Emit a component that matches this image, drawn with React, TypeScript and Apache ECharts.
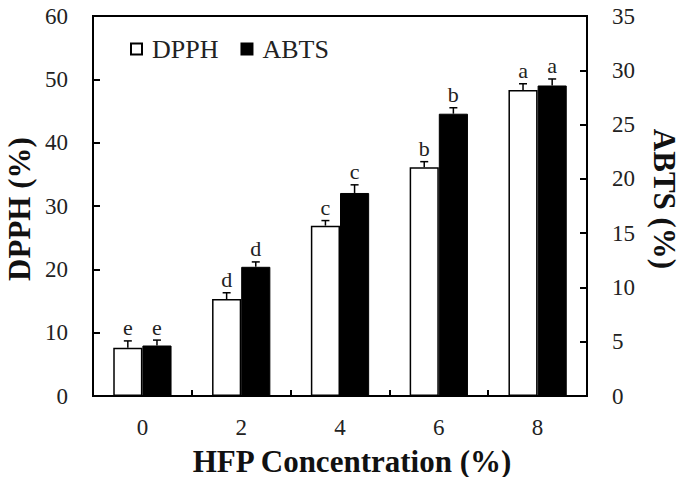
import React, { useEffect, useRef } from "react";
import * as echarts from "echarts";

const categories = ["0", "2", "4", "6", "8"];
const dpphValues = [7.6, 15.3, 26.9, 36.1, 48.3];
const dpphErrors = [1.1, 1.0, 0.8, 0.9, 1.0];
const abtsValues = [4.65, 11.9, 18.7, 26.0, 28.6];
const abtsErrors = [0.5, 0.45, 0.75, 0.55, 0.6];
const dpphLetters = ["e", "d", "c", "b", "a"];
const abtsLetters = ["e", "d", "c", "b", "a"];
const leftTicks = { min: 0, max: 60, interval: 10 };
const rightTicks = { min: 0, max: 35, interval: 5 };

const FONT = "Liberation Serif";
const CAT_GAP = 0.41;

function makeRender(errs: number[], letters: string[], side: number) {
  return (params: any, api: any) => {
    const idx = params.dataIndex;
    const x = api.value(0);
    const v = api.value(1);
    const e = errs[idx];
    const base = api.coord([x, v]);
    const top = api.coord([x, v + e]);
    const cw = api.size([1, 0])[0];
    const bw = (cw * (1 - CAT_GAP)) / 2;
    const cx = base[0] + (side * bw) / 2;
    return {
      type: "group",
      children: [
        {
          type: "line",
          shape: { x1: cx, y1: base[1], x2: cx, y2: top[1] },
          style: { stroke: "#000", lineWidth: 1.5 },
        },
        {
          type: "line",
          shape: { x1: cx - 4, y1: top[1], x2: cx + 4, y2: top[1] },
          style: { stroke: "#000", lineWidth: 1.5 },
        },
        {
          type: "text",
          x: cx,
          y: top[1] - 2,
          style: {
            text: letters[idx],
            align: "center",
            verticalAlign: "bottom",
            fontSize: 22,
            fontFamily: FONT,
            fill: "#222",
          },
        },
      ],
    };
  };
}

export default function App() {
  const ref = useRef<HTMLDivElement>(null);
  useEffect(() => {
    if (!ref.current) return;
    const chart = echarts.init(ref.current, undefined, { renderer: "svg" });
    const axisLine = { show: true, lineStyle: { color: "#000", width: 2 } };
    const labelStyle = { fontSize: 23, fontFamily: FONT, color: "#222" };
    const titleStyle = { fontSize: 31, fontWeight: "bold", fontFamily: FONT, fill: "#111" };
    chart.setOption({
      animation: false,
      backgroundColor: "#fff",
      textStyle: { fontFamily: FONT },
      grid: {
        left: 93,
        right: 99,
        top: 16,
        bottom: 81,
        show: true,
        borderColor: "#000",
        borderWidth: 2,
        backgroundColor: "transparent",
      },
      legend: {
        data: ["DPPH", "ABTS"],
        left: 125,
        top: 31,
        icon: "rect",
        itemWidth: 11,
        itemHeight: 11,
        itemGap: 22,
        textStyle: { fontSize: 26, fontFamily: FONT, color: "#222", padding: [0, 0, 0, 5] },
      },
      xAxis: {
        type: "category",
        data: categories,
        axisLine,
        axisTick: { show: true, inside: true, length: 6, lineStyle: { color: "#000", width: 2 } },
        axisLabel: { ...labelStyle, margin: 20 },
      },
      yAxis: [
        {
          type: "value",
          ...leftTicks,
          position: "left",
          axisLine,
          splitLine: { show: false },
          axisTick: { show: true, inside: true, length: 7, lineStyle: { color: "#000", width: 2 } },
          axisLabel: { ...labelStyle, margin: 25 },
        },
        {
          type: "value",
          ...rightTicks,
          position: "right",
          axisLine,
          splitLine: { show: false },
          axisTick: { show: true, inside: true, length: 7, lineStyle: { color: "#000", width: 2 } },
          axisLabel: { ...labelStyle, margin: 25 },
        },
      ],
      graphic: [
        {
          type: "text",
          x: 352,
          y: 461,
          style: { ...titleStyle, text: "HFP Concentration (%)", align: "center", verticalAlign: "middle" },
        },
        {
          type: "text",
          x: 19,
          y: 209,
          rotation: Math.PI / 2,
          style: { ...titleStyle, text: "DPPH (%)", align: "center", verticalAlign: "middle" },
        },
        {
          type: "text",
          x: 664,
          y: 199,
          rotation: -Math.PI / 2,
          style: { ...titleStyle, text: "ABTS (%)", align: "center", verticalAlign: "middle" },
        },
      ],
      series: [
        {
          name: "DPPH",
          type: "bar",
          yAxisIndex: 0,
          data: dpphValues,
          barGap: "0%",
          barCategoryGap: CAT_GAP * 100 + "%",
          itemStyle: { color: "#fff", borderColor: "#000", borderWidth: 1.5 },
        },
        {
          name: "ABTS",
          type: "bar",
          yAxisIndex: 1,
          data: abtsValues,
          barGap: "0%",
          barCategoryGap: CAT_GAP * 100 + "%",
          itemStyle: { color: "#000", borderColor: "#000", borderWidth: 1 },
        },
        {
          name: "DPPH err",
          type: "custom",
          yAxisIndex: 0,
          z: 5,
          data: dpphValues.map((v, i) => [i, v]),
          renderItem: makeRender(dpphErrors, dpphLetters, -1),
        },
        {
          name: "ABTS err",
          type: "custom",
          yAxisIndex: 1,
          z: 5,
          data: abtsValues.map((v, i) => [i, v]),
          renderItem: makeRender(abtsErrors, abtsLetters, 1),
        },
      ],
    });
    return () => chart.dispose();
  }, []);
  return (
    <div
      ref={ref}
      style={{ position: "fixed", left: 0, top: 0, width: 686, height: 477 }}
    />
  );
}
